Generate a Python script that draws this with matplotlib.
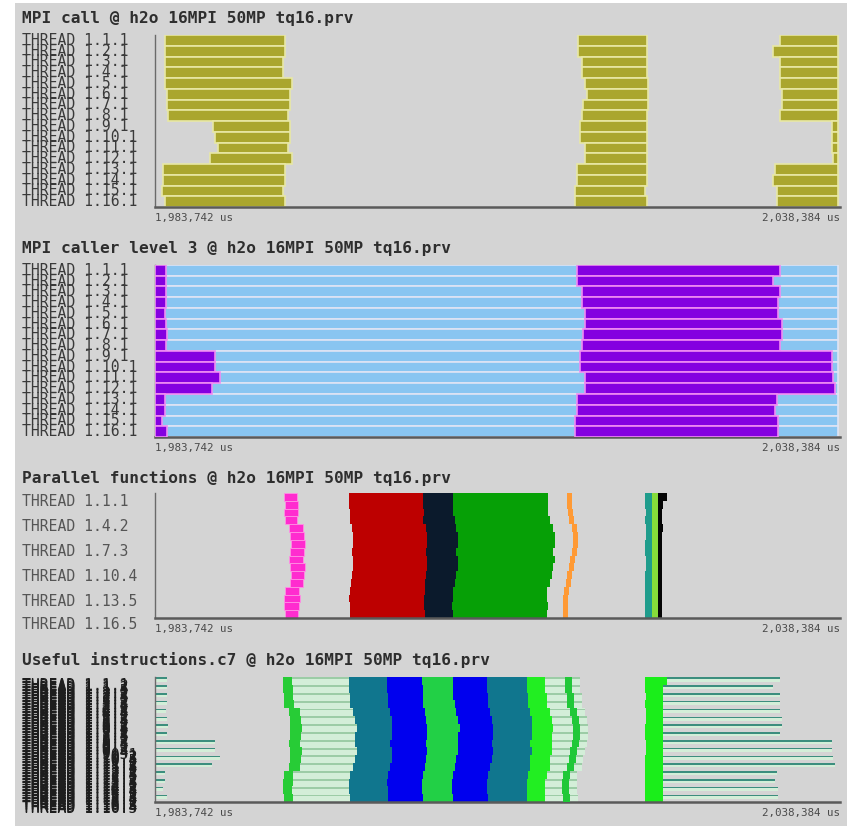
import numpy as np
import matplotlib
matplotlib.use('Agg')
import matplotlib.pyplot as plt
from matplotlib.patches import Rectangle

# ---------------- data (times in microseconds after the window start) -------------
T0 = 1983742
T1 = 2038384
time_tick_labels = ['1,983,742 us', '2,038,384 us']

titles = ['MPI call @ h2o 16MPI 50MP tq16.prv',
          'MPI caller level 3 @ h2o 16MPI 50MP tq16.prv',
          'Parallel functions @ h2o 16MPI 50MP tq16.prv',
          'Useful instructions.c7 @ h2o 16MPI 50MP tq16.prv']

process_labels = ['THREAD 1.1.1', 'THREAD 1.2.1', 'THREAD 1.3.1', 'THREAD 1.4.1',
                  'THREAD 1.5.1', 'THREAD 1.6.1', 'THREAD 1.7.1', 'THREAD 1.8.1',
                  'THREAD 1.9.1', 'THREAD 1.10.1', 'THREAD 1.11.1', 'THREAD 1.12.1',
                  'THREAD 1.13.1', 'THREAD 1.14.1', 'THREAD 1.15.1', 'THREAD 1.16.1']
parallel_tick_rows = [0, 16, 32, 48, 64, 79]
parallel_tick_labels = ['THREAD 1.1.1', 'THREAD 1.4.2', 'THREAD 1.7.3',
                        'THREAD 1.10.4', 'THREAD 1.13.5', 'THREAD 1.16.5']
thread_labels = ['THREAD 1.%d.%d' % (p, t) for p in range(1, 17) for t in range(1, 6)]

# Panel 1: MPI call
mpi_a_start = [800, 800, 800, 800, 800, 960, 960, 1040, 4630, 4790, 5030, 4390, 640, 640, 560, 800]
mpi_a_end = [10370, 10370, 10210, 10210, 10930, 10770, 10770, 10610, 10770, 10770, 10610, 10930, 10370, 10370, 10210, 10370]
mpi_b_start = [33740, 33740, 34060, 34060, 34300, 34460, 34140, 34060, 33900, 33900, 34300, 34300, 33660, 33660, 33500, 33500]
mpi_b_end = [39250, 39250, 39250, 39250, 39330, 39330, 39330, 39250, 39250, 39250, 39250, 39250, 39250, 39250, 39090, 39250]
mpi_c_start = [49860, 49300, 49860, 49860, 49860, 50020, 50020, 49860, 54000, 54000, 54000, 54080, 49460, 49300, 49620, 49620]
mpi_c_end = [54480, 54480, 54480, 54480, 54480, 54480, 54480, 54480, 54480, 54480, 54480, 54480, 54480, 54480, 54480, 54480]

# Panel 2: MPI caller level 3
caller_bg_end = [54480, 54480, 54480, 54480, 54480, 54480, 54480, 54480, 54480, 54480, 54480, 54480, 54480, 54480, 54480, 54480]
caller_a_end = [880, 880, 880, 880, 800, 880, 960, 880, 4790, 4790, 5190, 4550, 800, 800, 560, 960]
caller_b_start = [33660, 33660, 34060, 34060, 34300, 34300, 34140, 34060, 33900, 33900, 34300, 34300, 33660, 33660, 33500, 33500]
caller_b_end = [49860, 49300, 49860, 49700, 49700, 50020, 50020, 49860, 54000, 54000, 54080, 54240, 49620, 49460, 49700, 49700]

# Panel 3: Parallel functions (per MPI process, 5 threads each)
pf_magenta_start = [10290, 10370, 10290, 10370, 10690, 10770, 10850, 10770, 10690, 10770, 10850, 10770, 10370, 10290, 10290, 10370]
pf_magenta_end = [11330, 11410, 11410, 11330, 11810, 11890, 11970, 11890, 11810, 11970, 11890, 11810, 11490, 11570, 11490, 11410]
pf_red_start = [15480, 15480, 15560, 15560, 15720, 15790, 15790, 15720, 15790, 15790, 15720, 15640, 15560, 15480, 15560, 15560]
pf_navy_start = [21380, 21380, 21460, 21380, 21620, 21700, 21700, 21620, 21700, 21700, 21620, 21540, 21540, 21460, 21460, 21540]
pf_green_start = [23770, 23770, 23770, 23930, 24010, 24170, 24170, 24010, 24170, 24170, 24010, 23930, 23770, 23770, 23690, 23770]
pf_green_end = [31350, 31350, 31350, 31510, 31750, 31910, 31910, 31750, 31910, 31750, 31670, 31510, 31270, 31270, 31350, 31270]
pf_orange_start = [32870, 32870, 32950, 33030, 33270, 33350, 33350, 33270, 33110, 33030, 32870, 32790, 32630, 32550, 32550, 32550]
pf_orange_end = [33270, 33270, 33350, 33430, 33660, 33740, 33740, 33660, 33500, 33430, 33270, 33190, 33030, 32950, 32950, 32950]
pf_teal_start = [39090, 39090, 39170, 39090, 39170, 39170, 39090, 39090, 39170, 39170, 39090, 39090, 39090, 39090, 39090, 39090]
pf_lime_start = [39650, 39650, 39650, 39650, 39650, 39650, 39650, 39650, 39650, 39650, 39650, 39650, 39650, 39650, 39650, 39650]
pf_black_start = [40120, 40120, 40120, 40120, 40120, 40120, 40120, 40120, 40120, 40120, 40120, 40120, 40120, 40120, 40120, 40120]
pf_black_end = [40840, 40520, 40440, 40440, 40520, 40440, 40440, 40440, 40440, 40440, 40440, 40440, 40440, 40440, 40440, 40440]

# Panel 4: Useful instructions (per MPI process)
ui_left_line_end = [960, 960, 960, 960, 880, 960, 1040, 960, 4790, 4790, 5190, 4550, 800, 800, 640, 960]
ui_g1_start = [10210, 10210, 10290, 10290, 10690, 10770, 10770, 10770, 10690, 10770, 10770, 10690, 10290, 10210, 10210, 10290]
ui_g1_end = [10930, 11010, 11010, 11090, 11570, 11650, 11730, 11650, 11570, 11730, 11650, 11570, 11010, 11010, 10930, 11010]
ui_teal1_start = [15480, 15480, 15560, 15560, 15790, 15950, 16110, 15950, 15950, 16110, 15950, 15790, 15560, 15480, 15480, 15560]
ui_blue1_start = [18510, 18510, 18590, 18590, 18750, 18910, 18910, 18910, 18750, 18910, 18910, 18750, 18590, 18510, 18590, 18590]
ui_green2_start = [21300, 21380, 21380, 21380, 21540, 21620, 21700, 21700, 21620, 21700, 21620, 21540, 21380, 21300, 21300, 21380]
ui_blue2_start = [23770, 23770, 23770, 23930, 24010, 24170, 24330, 24170, 24170, 24170, 24010, 23930, 23770, 23690, 23690, 23770]
ui_teal2_start = [26480, 26480, 26560, 26560, 26720, 26880, 26960, 26960, 26880, 26960, 26880, 26720, 26560, 26480, 26480, 26560]
ui_bgreen_start = [29670, 29670, 29750, 29750, 29910, 30070, 30070, 30070, 29910, 30070, 29910, 29910, 29750, 29670, 29670, 29670]
ui_bgreen_end = [31110, 31110, 31270, 31270, 31510, 31670, 31750, 31670, 31670, 31670, 31510, 31510, 31270, 31110, 31110, 31110]
ui_thin_start = [32710, 32710, 32870, 32870, 33110, 33270, 33350, 33350, 33270, 33110, 33030, 32870, 32550, 32470, 32470, 32550]
ui_thin_end = [33270, 33270, 33430, 33430, 33660, 33820, 33900, 33900, 33820, 33660, 33580, 33430, 33110, 33030, 33030, 33110]
ui_pale2_end = [33900, 33900, 34060, 34060, 34300, 34460, 34540, 34540, 34460, 34300, 34140, 34060, 33660, 33660, 33660, 33740]
ui_g3_start = [39090, 39090, 39170, 39090, 39170, 39170, 39090, 39090, 39170, 39170, 39090, 39090, 39090, 39090, 39090, 39090]
ui_g3_end = [40840, 40520, 40520, 40520, 40520, 40520, 40520, 40520, 40520, 40520, 40520, 40520, 40520, 40520, 40520, 40520]
ui_right_line_end = [49860, 49300, 49860, 49860, 49860, 50020, 50020, 49860, 54000, 54000, 54080, 54240, 49620, 49460, 49700, 49700]

# ---------------- drawing --------------------------------------------------------
W, H = 850, 826
BG = '#d4d4d4'
MONO = 'DejaVu Sans Mono'

fig = plt.figure(figsize=(W / 100, H / 100), dpi=100)
fig.patch.set_facecolor('white')
fig.patches.append(Rectangle((15 / W, 0), (847 - 15) / W, 1 - 3 / H,
                             transform=fig.transFigure, facecolor=BG,
                             edgecolor='none', zorder=-10))


def make_ax(top_px, bottom_px, title, title_px):
    ax = fig.add_axes([155 / W, 1 - bottom_px / H, 685 / W, (bottom_px - top_px) / H])
    ax.set_facecolor(BG)
    for s in ('top', 'right'):
        ax.spines[s].set_visible(False)
    ax.spines['left'].set_color('#6a6a6a')
    ax.spines['left'].set_linewidth(1.0)
    ax.spines['bottom'].set_color('#5a5a5a')
    ax.spines['bottom'].set_linewidth(1.8)
    ax.set_xlim(T0, T1)
    ax.set_xticks([T0, T1])
    ax.set_xticklabels(time_tick_labels, fontsize=7.8, family=MONO, color='#4a4a4a')
    for lbl, ha in zip(ax.get_xticklabels(), ['left', 'right']):
        lbl.set_ha(ha)
    ax.tick_params(axis='x', length=0, pad=4)
    ax.tick_params(axis='y', length=0, pad=95.7)
    fig.text(22 / W, 1 - title_px / H, title, fontsize=11.6, fontweight='bold',
             family=MONO, color='#2e2e2e', va='center', ha='left')
    return ax


def bars(ax, rows, starts, ends, height, color, edge='none', lw=0.0, z=2):
    s = T0 + np.asarray(starts, dtype=float)
    e = T0 + np.asarray(ends, dtype=float)
    ax.barh(rows, e - s, left=s, height=height, color=color,
            edgecolor=edge, linewidth=lw, zorder=z)


def ylabels(ax, pos, labels, size, color, va):
    ax.set_yticks(pos)
    ax.set_yticklabels(labels, fontsize=size, family=MONO, color=color)
    for lbl in ax.get_yticklabels():
        lbl.set_ha('left')
        lbl.set_va(va)


rows16 = np.arange(16) + 0.5
zeros16 = np.zeros(16)

# ---- Panel 1
ax1 = make_ax(35, 207, titles[0], 18)
ax1.set_ylim(16, 0)
olive, olive_edge = '#aaa62e', '#e8e8a4'
bars(ax1, rows16, mpi_a_start, mpi_a_end, 1.0, olive, olive_edge, 1.2)
bars(ax1, rows16, mpi_b_start, mpi_b_end, 1.0, olive, olive_edge, 1.2)
bars(ax1, rows16, mpi_c_start, mpi_c_end, 1.0, olive, olive_edge, 1.2)
ylabels(ax1, rows16, process_labels, 10.6, '#3a3a3a', 'center')

# ---- Panel 2
ax2 = make_ax(265, 437, titles[1], 248)
ax2.set_ylim(16, 0)
bars(ax2, rows16, zeros16, caller_bg_end, 1.0, '#89c5f1', '#dfe4f4', 1.2)
purple, purple_edge = '#8400e0', '#f08cf2'
bars(ax2, rows16, zeros16, caller_a_end, 1.0, purple, purple_edge, 1.2, z=3)
bars(ax2, rows16, caller_b_start, caller_b_end, 1.0, purple, purple_edge, 1.2, z=3)
ylabels(ax2, rows16, process_labels, 10.6, '#3a3a3a', 'center')

# ---- Panel 3
proc_rows = 5 * np.arange(16) + 2.5
ax3 = make_ax(493, 618, titles[2], 478)
ax3.set_ylim(80, 0)
bars(ax3, proc_rows, pf_magenta_start, pf_magenta_end, 5, '#ff2ccf', '#ff90e4', 0.6)
bars(ax3, proc_rows, pf_red_start, pf_navy_start, 5, '#bd0000')
bars(ax3, proc_rows, pf_navy_start, pf_green_start, 5, '#0b1a2c')
bars(ax3, proc_rows, pf_green_start, pf_green_end, 5, '#06a006')
bars(ax3, proc_rows, pf_orange_start, pf_orange_end, 5, '#ff9a35')
bars(ax3, proc_rows, pf_teal_start, pf_lime_start, 5, '#1f9c8c')
bars(ax3, proc_rows, pf_lime_start, pf_black_start, 5, '#86dc3a')
bars(ax3, proc_rows, pf_black_start, pf_black_end, 5, '#050505')
ylabels(ax3, np.asarray(parallel_tick_rows) + 0.5, parallel_tick_labels, 10.6, '#555555', 'top')

# ---- Panel 4
ax4 = make_ax(677, 802, titles[3], 660)
ax4.set_ylim(80, 0)
line_rows = 5 * np.arange(16) + 0.8
mint_rows = 5 * np.arange(16) + 2.0
mint, line_teal, stripe = '#d3eed8', '#3c8e7e', '#9ccca6'
# left thin lines
bars(ax4, mint_rows, zeros16, ui_left_line_end, 1.8, mint)
bars(ax4, line_rows, zeros16, ui_left_line_end, 1.0, line_teal)
# first green band and pale region
bars(ax4, proc_rows, ui_g1_end, ui_teal1_start, 5, mint)
bars(ax4, line_rows, ui_g1_end, ui_teal1_start, 1.2, stripe, z=3)
bars(ax4, proc_rows, ui_g1_start, ui_g1_end, 5, '#27cc36')
# main coloured region
bars(ax4, proc_rows, ui_teal1_start, ui_blue1_start, 5, '#10768e')
bars(ax4, proc_rows, ui_blue1_start, ui_green2_start, 5, '#0000ee')
bars(ax4, proc_rows, ui_green2_start, ui_blue2_start, 5, '#22d046')
bars(ax4, proc_rows, ui_blue2_start, ui_teal2_start, 5, '#0000ee')
bars(ax4, proc_rows, ui_teal2_start, ui_bgreen_start, 5, '#10768e')
bars(ax4, proc_rows, ui_bgreen_start, ui_bgreen_end, 5, '#22ee22')
bars(ax4, proc_rows, ui_bgreen_end, ui_pale2_end, 5, mint)
bars(ax4, line_rows, ui_bgreen_end, ui_pale2_end, 1.2, stripe, z=3)
bars(ax4, proc_rows, ui_thin_start, ui_thin_end, 5, '#20c838', z=4)
# late green band and right thin lines
bars(ax4, proc_rows, ui_g3_start, ui_g3_end, 5, '#1aee1a')
bars(ax4, mint_rows, ui_g3_end, ui_right_line_end, 1.8, mint)
bars(ax4, line_rows, ui_g3_end, ui_right_line_end, 1.0, line_teal)
ylabels(ax4, np.arange(80) + 0.5, thread_labels, 10.6, '#1e1e1e', 'top')

fig.savefig('out.png', dpi=100, facecolor=fig.get_facecolor())
